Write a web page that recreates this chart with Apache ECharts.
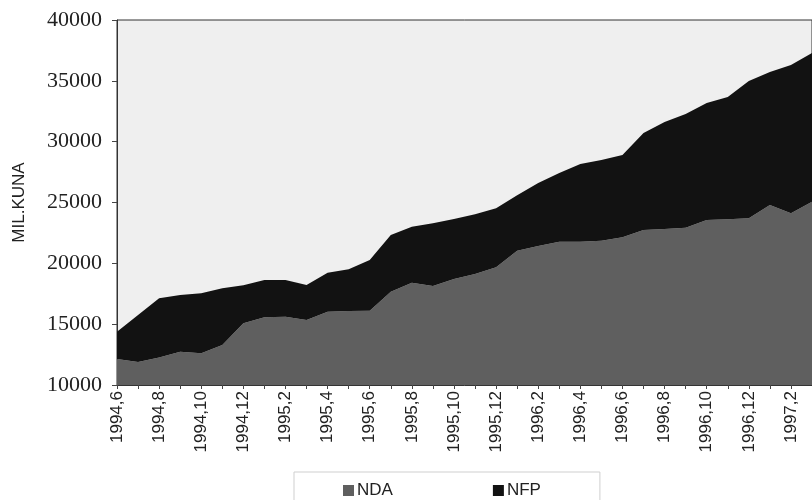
<!DOCTYPE html>
<html>
<head>
<meta charset="utf-8">
<script src="https://cdn.jsdelivr.net/npm/echarts@6/dist/echarts.min.js"></script>
<style>html,body{margin:0;padding:0;background:#fff;}#c{width:812px;height:500px;}</style>
</head>
<body>
<div id="c"></div>
<script>
var categories = ["1994,6","1994,7","1994,8","1994,9","1994,10","1994,11","1994,12",
  "1995,1","1995,2","1995,3","1995,4","1995,5","1995,6","1995,7","1995,8","1995,9","1995,10","1995,11","1995,12",
  "1996,1","1996,2","1996,3","1996,4","1996,5","1996,6","1996,7","1996,8","1996,9","1996,10","1996,11","1996,12",
  "1997,1","1997,2","1997,3"];
var ndaValues = [12140,11890,12270,12740,12600,13290,15070,15560,15610,15340,16030,16080,16110,17670,18400,18140,18710,19120,19670,21040,21420,21780,21780,21860,22140,22740,22820,22930,23560,23620,23700,24790,24110,25070];
var nfpValues = [2240,3860,4860,4660,4940,4660,3120,3070,3020,2880,3200,3430,4160,4660,4610,5150,4940,4910,4850,4560,5180,5640,6380,6630,6760,7970,8800,9340,9620,10050,11290,10940,12190,12220];
var yTicks = [10000,15000,20000,25000,30000,35000,40000];

var chart = echarts.init(document.getElementById('c'), null, {renderer:'canvas'});
chart.setOption({
  animation: false,
  backgroundColor: '#ffffff',
  grid: {left: 117, top: 20, bottom: 115, right: -5, show: true, backgroundColor: '#efefef', borderColor: '#333', borderWidth: 1},
  legend: {
    data: ['NDA','NFP'], left: 294, top: 472, itemGap: 100, itemWidth: 11, itemHeight: 11,
    icon: 'rect', borderColor: '#cfcfcf', borderWidth: 1, padding: [10, 59, 10, 49],
    textStyle: {fontFamily: 'Liberation Sans Narrow, Liberation Sans, sans-serif', fontSize: 17, color: '#222', padding: [0,0,0,-2]}
  },
  xAxis: {
    type: 'category', data: categories, boundaryGap: false,
    axisLine: {show: true, lineStyle: {color: '#333'}},
    axisTick: {show: true, interval: 0, length: 4, lineStyle: {color: '#444'}},
    axisLabel: {interval: 1, rotate: 90, margin: 6, fontFamily: 'Liberation Sans, sans-serif', fontSize: 17, color: '#222'},
    splitLine: {show: false}
  },
  yAxis: {
    type: 'value', min: yTicks[0], max: yTicks[yTicks.length-1], interval: 5000,
    name: 'MIL.KUNA', nameLocation: 'middle', nameRotate: 90, nameGap: 89,
    nameTextStyle: {fontFamily: 'Liberation Sans, sans-serif', fontSize: 17, color: '#222'},
    axisLine: {show: true, lineStyle: {color: '#333'}},
    axisTick: {show: true, length: 5, lineStyle: {color: '#444'}},
    axisLabel: {margin: 15, fontFamily: 'Liberation Serif, serif', fontSize: 22, color: '#222',
      formatter: function (v) { return String(v); }},
    splitLine: {show: false}
  },
  series: [
    {name: 'NDA', type: 'line', stack: 'total', data: ndaValues, symbol: 'none',
     lineStyle: {width: 0}, itemStyle: {color: '#5f5f5f'}, areaStyle: {color: '#5f5f5f', opacity: 1}},
    {name: 'NFP', type: 'line', stack: 'total', data: nfpValues, symbol: 'none',
     lineStyle: {width: 0}, itemStyle: {color: '#121212'}, areaStyle: {color: '#121212', opacity: 1}}
  ]
});
</script>
</body>
</html>
